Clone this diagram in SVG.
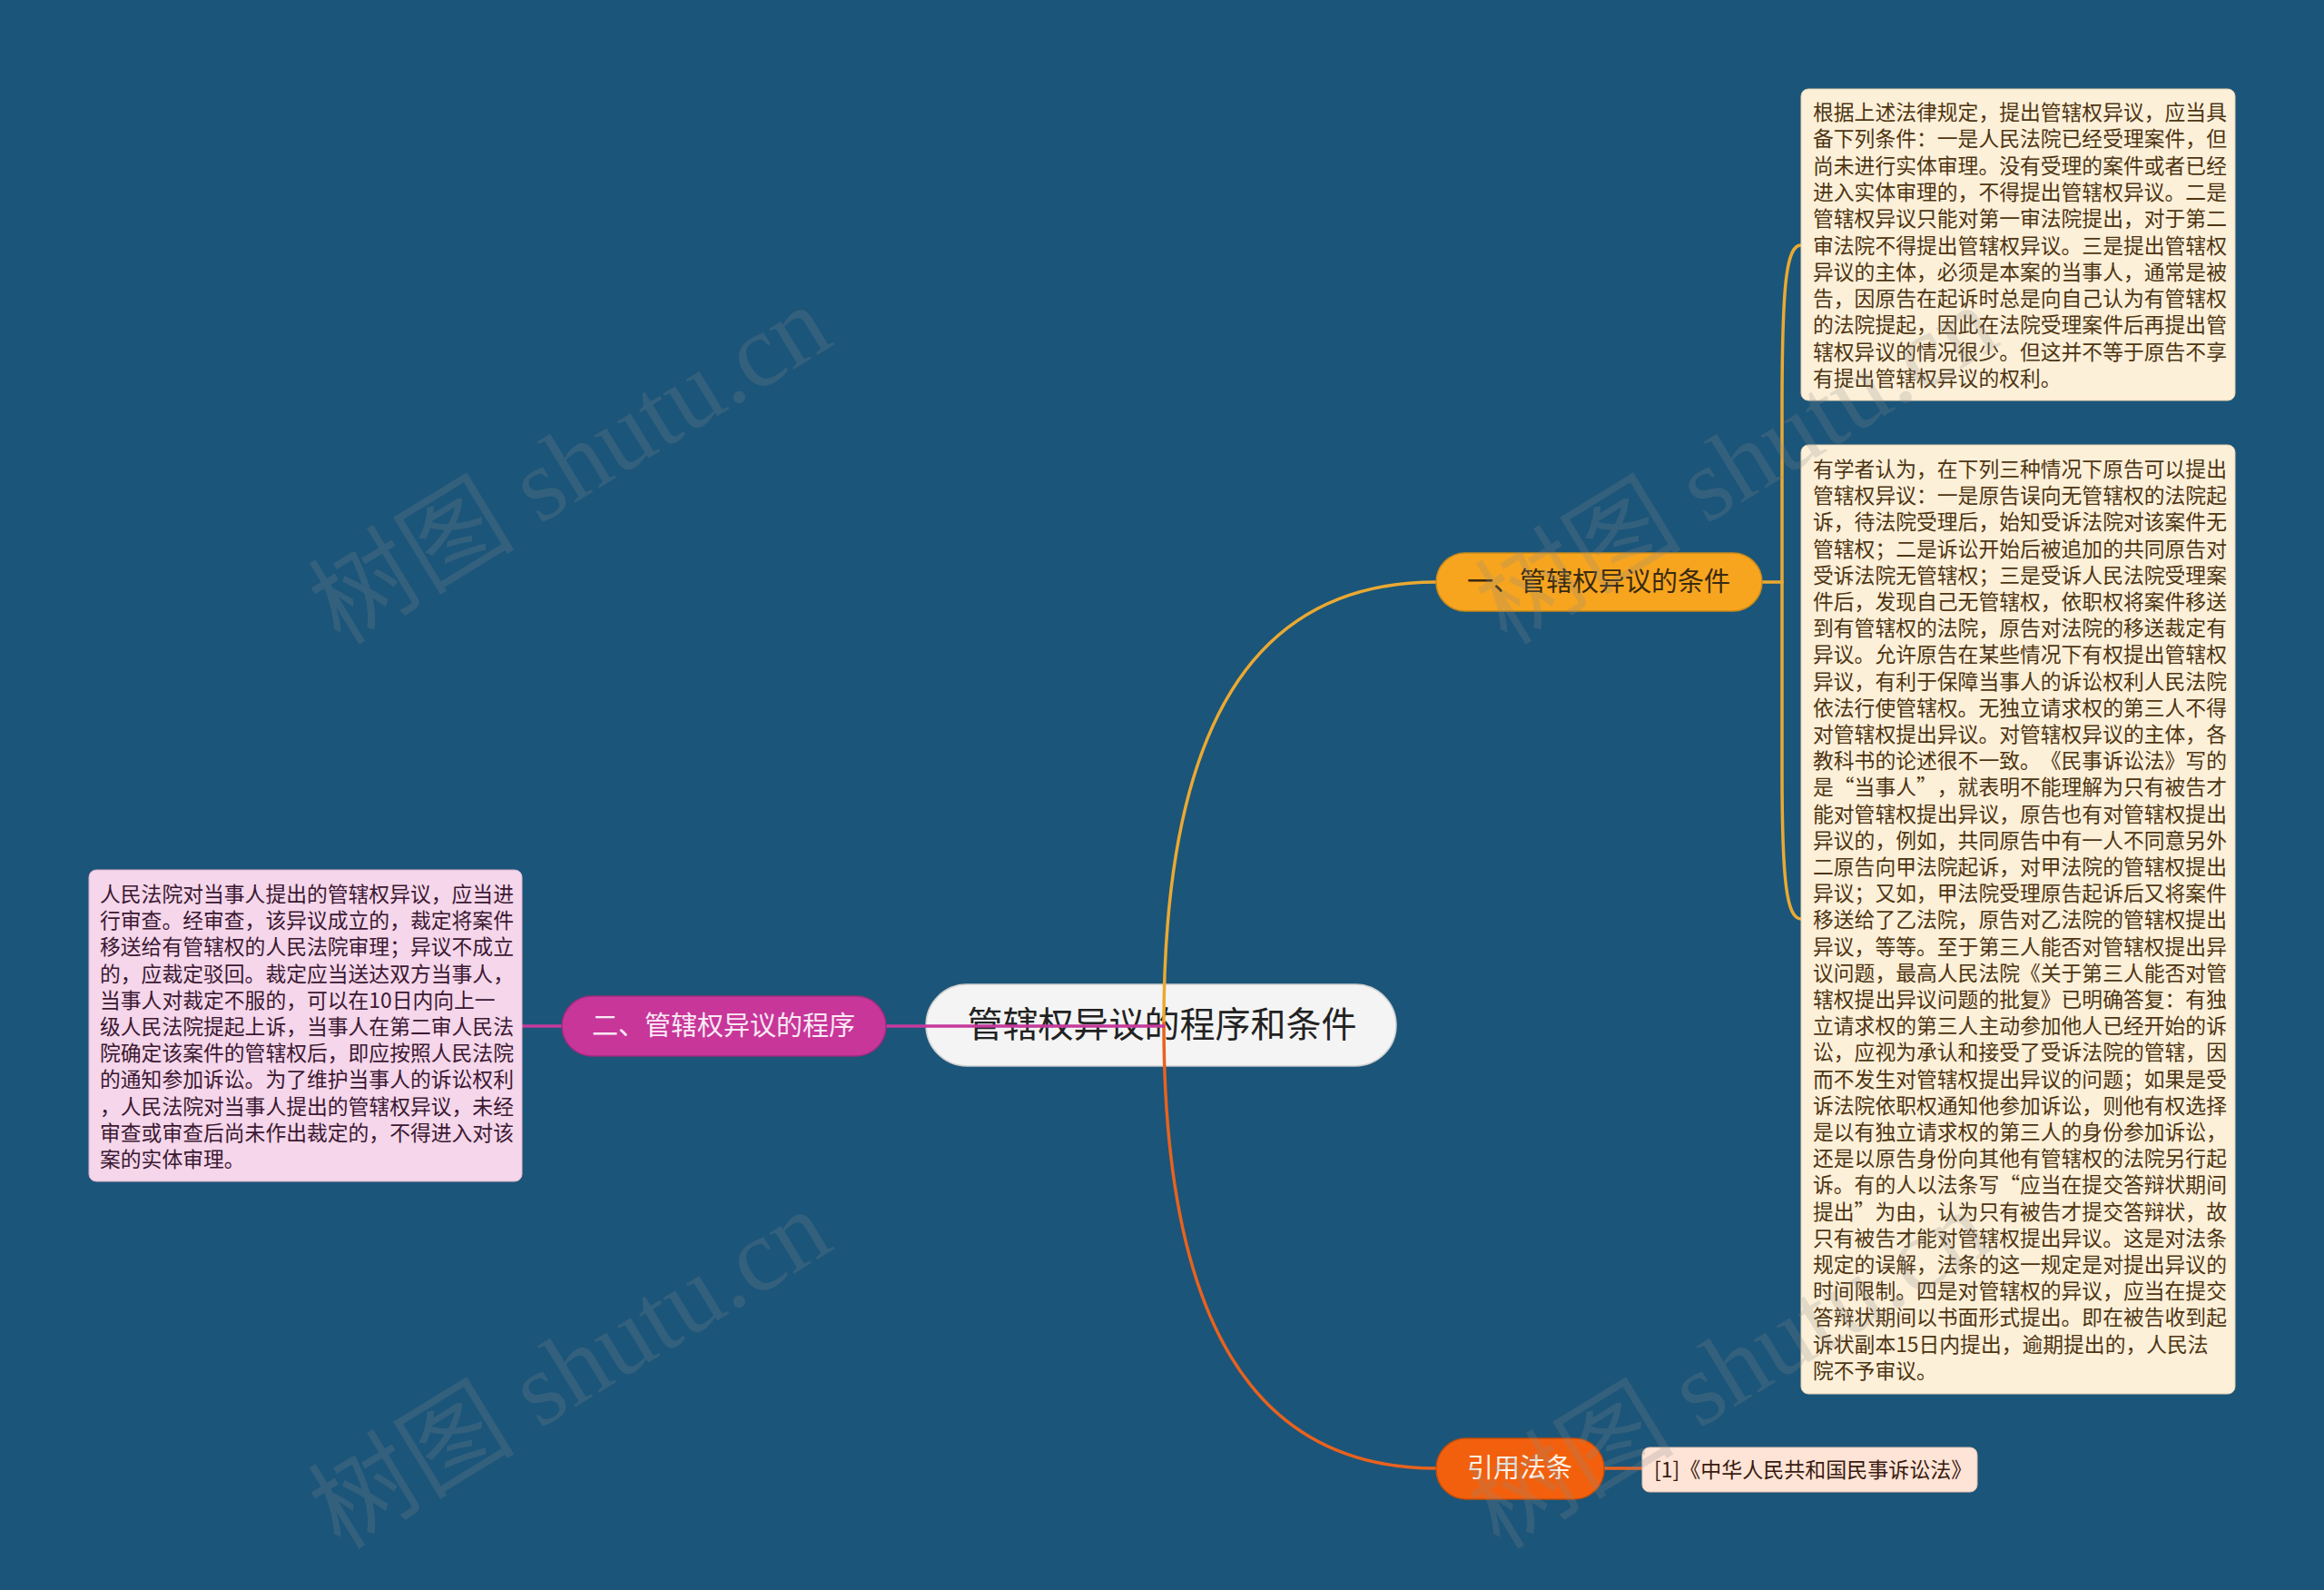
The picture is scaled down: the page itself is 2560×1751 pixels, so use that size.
<svg xmlns="http://www.w3.org/2000/svg" width="2560" height="1751" viewBox="0 0 2560 1751">
<defs>
<style>
.bg{fill:#1b5579}
.cn{font-family:"Noto Sans CJK SC","Noto Sans",sans-serif}
.box{font-family:"Noto Sans CJK SC","Noto Sans",sans-serif;font-size:22.8px;text-spacing-trim:space-all}
.tr{fill:#4e3512}
.tl{fill:#3b1832}
.wm{font-family:"Liberation Serif","Noto Sans CJK SC",serif;font-size:114px;fill:#8a8a8a;opacity:0.22}
.con{fill:none;stroke-width:3.5;stroke-linecap:round}
</style>
</defs>
<rect class="bg" x="0" y="0" width="2560" height="1751"/>

<g id="root">
<rect x="1020" y="1084" width="518" height="90" rx="45" fill="#f4f4f4" stroke="#d0d0d0" stroke-width="1.5"/>
<text class="cn" x="1280" y="1142" font-size="39" fill="#222" text-anchor="middle">管辖权异议的程序和条件</text>
</g>

<g id="connectors">
<path class="con" stroke="#eaa932" d="M1282,1127 C1282,800 1380,641 1582,641"/>
<path class="con" stroke="#e8621e" d="M1282,1127 C1282,1454 1380,1617 1582,1617"/>
<path class="con" stroke="#c53a9c" d="M1282,1130 L976,1130"/>
<path class="con" stroke="#c53a9c" d="M619,1130 L575,1130"/>
<path class="con" stroke="#eaa932" d="M1941,641 L1963,641"/>
<path class="con" stroke="#eaa932" d="M1963,641 L1963,450 C1963,310 1968,270 1984,270"/>
<path class="con" stroke="#eaa932" d="M1963,641 L1963,850 C1963,970 1968,1012 1984,1012"/>
<path class="con" stroke="#e8621e" d="M1767,1617 L1809,1617"/>
</g>

<g id="branch1">
<rect x="1582" y="609" width="359" height="64" rx="32" fill="#f7a51f" stroke="#c98a1a" stroke-width="1.5"/>
<text class="cn" x="1761" y="651" font-size="29" fill="#3a2a10" text-anchor="middle">一、管辖权异议的条件</text>
</g>

<g id="branch2">
<rect x="619" y="1097" width="357" height="66" rx="33" fill="#c8369a" stroke="#a02c7d" stroke-width="1.5"/>
<text class="cn" x="797" y="1140" font-size="29" fill="#fbeaf5" text-anchor="middle">二、管辖权异议的程序</text>
</g>

<g id="branch3">
<rect x="1582" y="1584" width="185" height="67" rx="33" fill="#f3600d" stroke="#c44e0b" stroke-width="1.5"/>
<text class="cn" x="1674" y="1627" font-size="29" fill="#fff2e8" text-anchor="middle">引用法条</text>
</g>

<g id="note1">
<rect x="1984" y="98" width="478" height="343" rx="8" fill="#fdf0d9" stroke="#e6d2b0" stroke-width="1"/>
<text class="box tr">
<tspan x="1997" y="132">根据上述法律规定，提出管辖权异议，应当具</tspan>
<tspan x="1997" y="161.3">备下列条件：一是人民法院已经受理案件，但</tspan>
<tspan x="1997" y="190.6">尚未进行实体审理。没有受理的案件或者已经</tspan>
<tspan x="1997" y="219.9">进入实体审理的，不得提出管辖权异议。二是</tspan>
<tspan x="1997" y="249.2">管辖权异议只能对第一审法院提出，对于第二</tspan>
<tspan x="1997" y="278.5">审法院不得提出管辖权异议。三是提出管辖权</tspan>
<tspan x="1997" y="307.8">异议的主体，必须是本案的当事人，通常是被</tspan>
<tspan x="1997" y="337.1">告，因原告在起诉时总是向自己认为有管辖权</tspan>
<tspan x="1997" y="366.4">的法院提起，因此在法院受理案件后再提出管</tspan>
<tspan x="1997" y="395.7">辖权异议的情况很少。但这并不等于原告不享</tspan>
<tspan x="1997" y="425">有提出管辖权异议的权利。</tspan>
</text>
</g>

<g id="note2">
<rect x="1984" y="490" width="478" height="1045" rx="8" fill="#fdf0d9" stroke="#e6d2b0" stroke-width="1"/>
<text class="box tr">
<tspan x="1997" y="525">有学者认为，在下列三种情况下原告可以提出</tspan>
<tspan x="1997" y="554.2">管辖权异议：一是原告误向无管辖权的法院起</tspan>
<tspan x="1997" y="583.4">诉，待法院受理后，始知受诉法院对该案件无</tspan>
<tspan x="1997" y="612.6">管辖权；二是诉讼开始后被追加的共同原告对</tspan>
<tspan x="1997" y="641.8">受诉法院无管辖权；三是受诉人民法院受理案</tspan>
<tspan x="1997" y="671">件后，发现自己无管辖权，依职权将案件移送</tspan>
<tspan x="1997" y="700.2">到有管辖权的法院，原告对法院的移送裁定有</tspan>
<tspan x="1997" y="729.4">异议。允许原告在某些情况下有权提出管辖权</tspan>
<tspan x="1997" y="758.6">异议，有利于保障当事人的诉讼权利人民法院</tspan>
<tspan x="1997" y="787.8">依法行使管辖权。无独立请求权的第三人不得</tspan>
<tspan x="1997" y="817">对管辖权提出异议。对管辖权异议的主体，各</tspan>
<tspan x="1997" y="846.2">教科书的论述很不一致。《民事诉讼法》写的</tspan>
<tspan x="1997" y="875.4">是“当事人”，就表明不能理解为只有被告才</tspan>
<tspan x="1997" y="904.6">能对管辖权提出异议，原告也有对管辖权提出</tspan>
<tspan x="1997" y="933.8">异议的，例如，共同原告中有一人不同意另外</tspan>
<tspan x="1997" y="963">二原告向甲法院起诉，对甲法院的管辖权提出</tspan>
<tspan x="1997" y="992.2">异议；又如，甲法院受理原告起诉后又将案件</tspan>
<tspan x="1997" y="1021.4">移送给了乙法院，原告对乙法院的管辖权提出</tspan>
<tspan x="1997" y="1050.6">异议，等等。至于第三人能否对管辖权提出异</tspan>
<tspan x="1997" y="1079.8">议问题，最高人民法院《关于第三人能否对管</tspan>
<tspan x="1997" y="1109">辖权提出异议问题的批复》已明确答复：有独</tspan>
<tspan x="1997" y="1138.2">立请求权的第三人主动参加他人已经开始的诉</tspan>
<tspan x="1997" y="1167.4">讼，应视为承认和接受了受诉法院的管辖，因</tspan>
<tspan x="1997" y="1196.6">而不发生对管辖权提出异议的问题；如果是受</tspan>
<tspan x="1997" y="1225.8">诉法院依职权通知他参加诉讼，则他有权选择</tspan>
<tspan x="1997" y="1255">是以有独立请求权的第三人的身份参加诉讼，</tspan>
<tspan x="1997" y="1284.2">还是以原告身份向其他有管辖权的法院另行起</tspan>
<tspan x="1997" y="1313.4">诉。有的人以法条写“应当在提交答辩状期间</tspan>
<tspan x="1997" y="1342.6">提出”为由，认为只有被告才提交答辩状，故</tspan>
<tspan x="1997" y="1371.8">只有被告才能对管辖权提出异议。这是对法条</tspan>
<tspan x="1997" y="1401">规定的误解，法条的这一规定是对提出异议的</tspan>
<tspan x="1997" y="1430.2">时间限制。四是对管辖权的异议，应当在提交</tspan>
<tspan x="1997" y="1459.4">答辩状期间以书面形式提出。即在被告收到起</tspan>
<tspan x="1997" y="1488.6">诉状副本15日内提出，逾期提出的，人民法</tspan>
<tspan x="1997" y="1517.8">院不予审议。</tspan>
</text>
</g>

<g id="note3">
<rect x="98" y="958" width="477" height="343" rx="8" fill="#f5d6ea" stroke="#dcb2cc" stroke-width="1"/>
<text class="box tl">
<tspan x="110" y="993">人民法院对当事人提出的管辖权异议，应当进</tspan>
<tspan x="110" y="1022.2">行审查。经审查，该异议成立的，裁定将案件</tspan>
<tspan x="110" y="1051.4">移送给有管辖权的人民法院审理；异议不成立</tspan>
<tspan x="110" y="1080.6">的，应裁定驳回。裁定应当送达双方当事人，</tspan>
<tspan x="110" y="1109.8">当事人对裁定不服的，可以在10日内向上一</tspan>
<tspan x="110" y="1139">级人民法院提起上诉，当事人在第二审人民法</tspan>
<tspan x="110" y="1168.2">院确定该案件的管辖权后，即应按照人民法院</tspan>
<tspan x="110" y="1197.4">的通知参加诉讼。为了维护当事人的诉讼权利</tspan>
<tspan x="110" y="1226.6">，人民法院对当事人提出的管辖权异议，未经</tspan>
<tspan x="110" y="1255.8">审查或审查后尚未作出裁定的，不得进入对该</tspan>
<tspan x="110" y="1285">案的实体审理。</tspan>
</text>
</g>

<g id="note4">
<rect x="1809" y="1594" width="369" height="49" rx="8" fill="#fde4d6" stroke="#e3c2b0" stroke-width="1"/>
<text class="cn" x="1822" y="1627" font-size="23" fill="#3a1a10">[1]《中华人民共和国民事诉讼法》</text>
</g>

<g id="watermarks">
<text class="wm" text-anchor="middle" transform="translate(648,545) rotate(-31.4)">树图 shutu.cn</text>
<text class="wm" text-anchor="middle" transform="translate(648,1541) rotate(-31.4)">树图 shutu.cn</text>
<text class="wm" text-anchor="middle" transform="translate(1933,545) rotate(-31.4)">树图 shutu.cn</text>
<text class="wm" text-anchor="middle" transform="translate(1925,1541) rotate(-31.4)">树图 shutu.cn</text>
</g>
</svg>
